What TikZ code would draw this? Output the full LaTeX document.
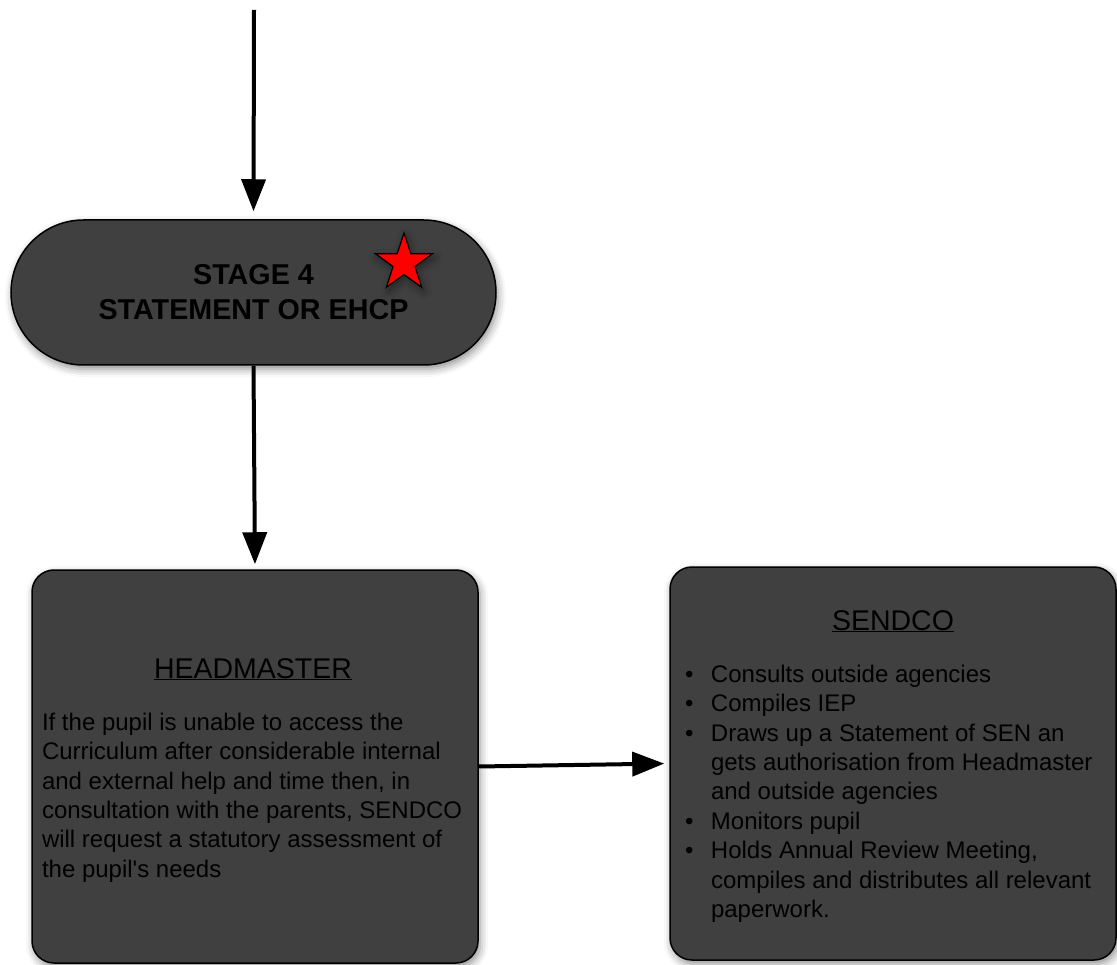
\documentclass[tikz,border=0pt]{standalone}
\usepackage{fontspec}
\setmainfont{Liberation Sans}
\usetikzlibrary{arrows.meta, shapes.geometric, shapes.misc, shadows.blur}
\definecolor{boxgrey}{RGB}{64,64,64}
\newcommand{\bul}{\makebox[26pt][l]{\textbullet}}
\newcommand{\hang}{\hspace*{26pt}}
\tikzset{
  boxshadow/.style = {blur shadow={shadow xshift=2pt, shadow yshift=-4pt,
    shadow blur radius=8pt, shadow opacity=45}},
  stage_n/.style = {rounded rectangle, draw=black, line width=1.5pt,
    fill=boxgrey, boxshadow, minimum width=485pt, minimum height=145pt,
    inner sep=0pt, align=center, font=\fontsize{28.7}{35}\selectfont\bfseries},
  role_n/.style = {rectangle, rounded corners=22pt, draw=black,
    line width=1.5pt, fill=boxgrey, boxshadow, minimum width=446pt,
    minimum height=393pt, inner sep=0pt},
  star_n/.style = {star, star points=5, star point ratio=2.6,
    minimum size=60pt, inner sep=0pt, draw=black, line width=1.2pt,
    fill=red, boxshadow},
  title_t/.style = {font=\fontsize{28.5}{34}\selectfont, inner sep=0pt,
    anchor=base},
  body_t/.style = {font=\fontsize{24}{29.4}\selectfont, align=left,
    inner sep=0pt, anchor=north west}
}

\begin{document}
\begin{tikzpicture}[x=1pt, y=1pt, line width=4pt,
  >={Triangle[width=24pt, length=32pt]}]
\useasboundingbox (0,0) rectangle (1117,-965);

\coordinate (start) at (254,-10);
\node [stage_n] (stage4) at (253.5,-292.5) {STAGE 4\\STATEMENT OR EHCP};
\node [star_n] (star4) at (404,-263) {};

\node [role_n] (head) at (255,-766.5) {};
\node [role_n] (sendco) at (893,-763.5) {};

% titles and texts
\node [title_t] (headtitle) at (253,-678) {\underline{HEADMASTER}};
\node [body_t] (headtext) at (40,-711) {If the pupil is unable to access the\\
  Curriculum after considerable internal\\
  and external help and time then, in\\
  consultation with the parents, SENDCO\\
  will request a statutory assessment of\\
  the pupil\textquotesingle s needs};

\node [title_t] (sendtitle) at (893,-630) {\underline{SENDCO}};
\node [body_t] (sendtext) at (683,-663) {\bul Consults outside agencies\\
  \bul Compiles IEP\\
  \bul Draws up a Statement of SEN an\\
  \hang gets authorisation from Headmaster\\
  \hang and outside agencies\\
  \bul Monitors pupil\\
  \bul Holds Annual Review Meeting,\\
  \hang compiles and distributes all relevant\\
  \hang paperwork.};

% connectors
\draw [->, shorten >=8pt] (start) -- (stage4.north);
\draw [->, shorten >=5pt] (stage4.south) -- (head.north);
\draw [->, shorten >=5pt] (head.east) -- (sendco.west);
\end{tikzpicture}
\end{document}
